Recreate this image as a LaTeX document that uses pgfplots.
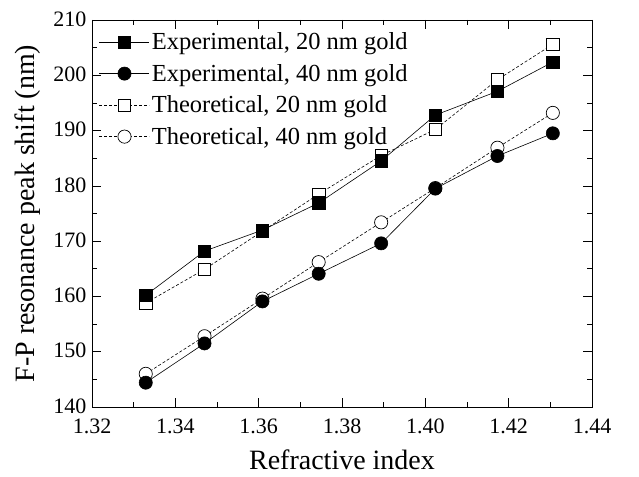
\documentclass[border=0pt]{standalone}
\usepackage{pgfplots}
\pgfplotsset{compat=1.18}
\usepackage{fontspec}
\setmainfont{Liberation Serif}
\begin{document}
\begin{tikzpicture}[x=1pt,y=1pt]
\useasboundingbox (-92,-69) rectangle (547,407);
\begin{axis}[
  scale only axis,
  width=500pt, height=387pt,
  xmin=1.32, xmax=1.44, ymin=140, ymax=210,
  xtick={1.32,1.34,...,1.44},
  ytick={140,150,...,210},
  minor x tick num=1, minor y tick num=1,
  tick align=inside,
  major tick length=9pt, minor tick length=5pt,
  axis line style={line width=0.9pt},
  every tick/.style={line width=0.7pt, black},
  /pgf/number format/assume math mode=true,
  x tick label style={/pgf/number format/.cd, fixed, fixed zerofill, precision=2, /tikz/.cd, yshift=-8pt},
  y tick label style={xshift=-2pt, yshift=1pt},
  ticklabel style={font=\fontsize{22}{25}\selectfont},
  xlabel={Refractive index},
  ylabel={F-P resonance peak shift (nm)},
  label style={font=\fontsize{28}{32}\selectfont},
  xlabel style={yshift=-9pt},
  ylabel style={yshift=6pt},
  legend style={at={(0.012,0.975)}, anchor=north west, draw=none, fill=none,
    font=\fontsize{24.5}{27}\selectfont, row sep=9pt, inner sep=1pt,
    /tikz/every even column/.append style={column sep=4pt}},
  legend cell align=left,
  legend image code/.code={\draw[mark repeat=2,mark phase=2] plot coordinates {(0pt,0pt)(25pt,0pt)(50pt,0pt)};},
]
% theoretical (drawn first, behind)
\addplot[black, line width=0.6pt, dashed, dash pattern=on 3pt off 2pt, mark=square*, mark size=6.2pt, mark options={solid, fill=white, line width=0.7pt}, forget plot] coordinates {
(1.3329,158.8) (1.3470,164.9) (1.3609,171.8) (1.3744,178.5) (1.3894,185.5) (1.4024,190.2) (1.4173,199.2) (1.4306,205.6)};
\addplot[black, line width=0.6pt, dashed, dash pattern=on 3pt off 2pt, mark=*, mark size=6.6pt, mark options={solid, fill=white, line width=0.7pt}, forget plot] coordinates {
(1.3329,146.0) (1.3470,152.8) (1.3609,159.6) (1.3744,166.2) (1.3894,173.4) (1.4024,179.6) (1.4173,186.9) (1.4306,193.2)};
% experimental
\addplot[black, line width=0.6pt, mark=square*, mark size=6.2pt, mark options={fill=black}] coordinates {
(1.3329,160.2) (1.3470,168.2) (1.3609,172.0) (1.3744,176.9) (1.3894,184.5) (1.4024,192.8) (1.4173,197.1) (1.4306,202.4)};
\addlegendentry{Experimental, 20 nm gold}
\addplot[black, line width=0.6pt, mark=*, mark size=6.6pt, mark options={fill=black}] coordinates {
(1.3329,144.4) (1.3470,151.5) (1.3609,159.1) (1.3744,164.1) (1.3894,169.6) (1.4024,179.5) (1.4173,185.4) (1.4306,189.5)};
\addlegendentry{Experimental, 40 nm gold}
\addlegendimage{black, line width=0.6pt, dashed, dash pattern=on 3pt off 2pt, mark=square*, mark size=6.2pt, mark options={solid, fill=white, line width=0.7pt}}
\addlegendentry{Theoretical, 20 nm gold}
\addlegendimage{black, line width=0.6pt, dashed, dash pattern=on 3pt off 2pt, mark=*, mark size=6.6pt, mark options={solid, fill=white, line width=0.7pt}}
\addlegendentry{Theoretical, 40 nm gold}
\end{axis}
\end{tikzpicture}
\end{document}
